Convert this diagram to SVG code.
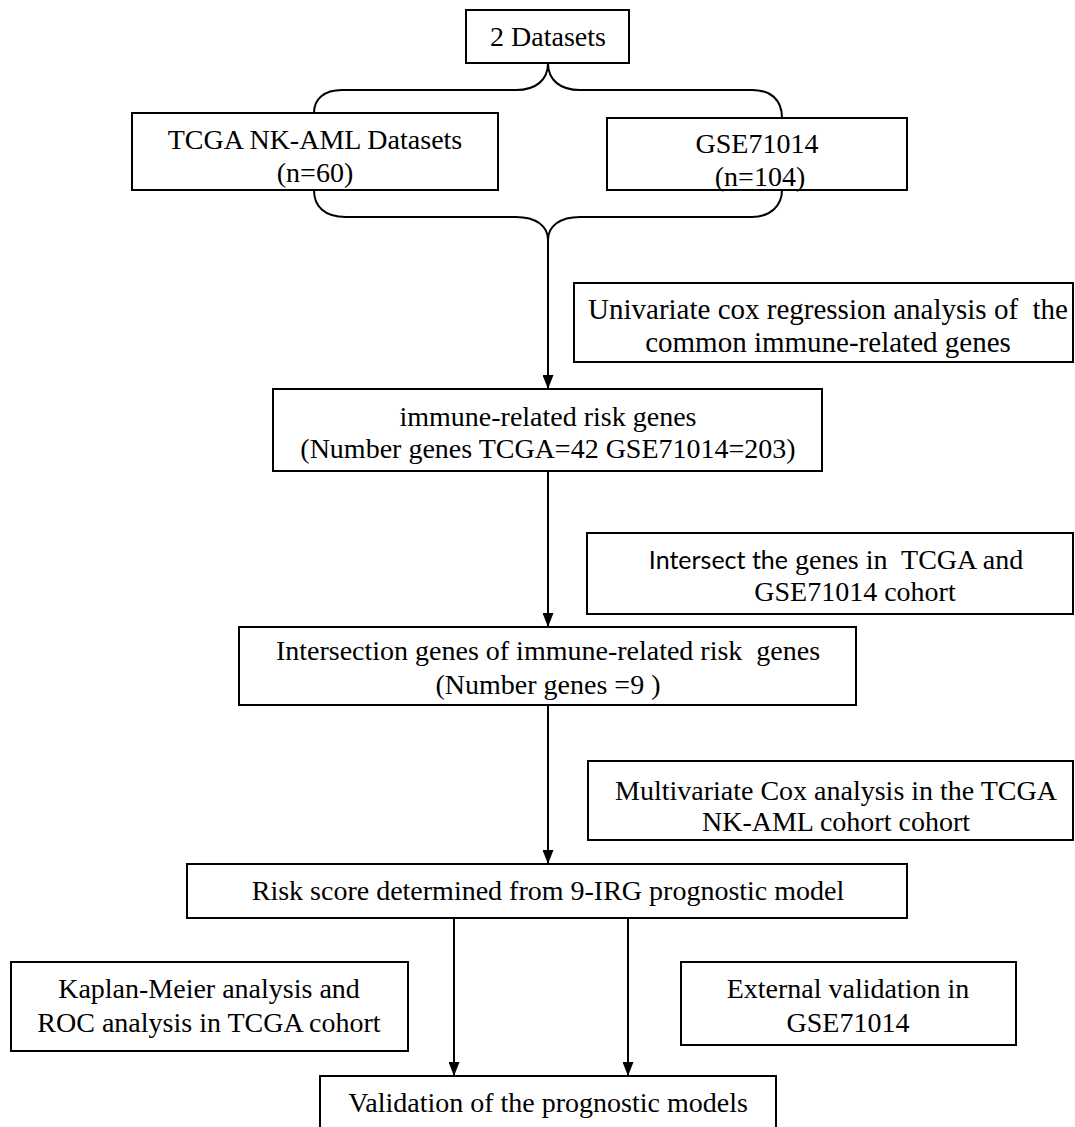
<svg xmlns="http://www.w3.org/2000/svg" width="1075" height="1127" viewBox="0 0 1075 1127">
<defs>
<marker id="arrow" viewBox="0 0 14 11" refX="14" refY="5.5" markerWidth="14" markerHeight="11" markerUnits="userSpaceOnUse" orient="auto">
<path d="M0,0 L14,5.5 L0,11 z" fill="#000"/>
</marker>
<style>
.box{fill:#fff;stroke:#000;stroke-width:2}
.open{fill:none}
.t{font-family:"Liberation Serif","Times New Roman",serif;font-size:28px;fill:#000;text-anchor:middle;white-space:pre}
.s{font-family:Lato,"Liberation Sans",sans-serif;font-size:25px}
.c{fill:none;stroke:#000;stroke-width:2}
</style>
</defs>
<rect width="1075" height="1127" fill="#fff"/>
<g id="connectors">
<path class="c" d="M314,113 C314,99 324,90 342,90 L516,90 C536,90 548,80 548,63 C548,80 560,90 580,90 L752,90 C770,90 782,99 782,118"/>
<path class="c" d="M314,190 C314,206 324,217 346,217 L516,217 C536,217 548,226 548,240 M548,240 C548,226 560,217 580,217 L752,217 C770,217 782,206 782,190"/>
<line class="c" x1="548" y1="237" x2="548" y2="389" marker-end="url(#arrow)"/>
<line class="c" x1="548" y1="471" x2="548" y2="627" marker-end="url(#arrow)"/>
<line class="c" x1="548" y1="705" x2="548" y2="864" marker-end="url(#arrow)"/>
<line class="c" x1="454" y1="918" x2="454" y2="1076" marker-end="url(#arrow)"/>
<line class="c" x1="628" y1="918" x2="628" y2="1076" marker-end="url(#arrow)"/>
</g>
<g id="n_datasets">
<rect class="box" x="466" y="10" width="163" height="53"/>
<text class="t" x="548" y="46">2 Datasets</text>
</g>
<g id="n_tcga">
<rect class="box open" x="132" y="113" width="366" height="77"/>
<text class="t" x="315" y="149">TCGA NK-AML Datasets</text>
<text class="t" x="315" y="182">(n=60)</text>
</g>
<g id="n_gse">
<rect class="box open" x="607" y="118" width="300" height="72"/>
<text class="t" x="757" y="153">GSE71014</text>
<text class="t" x="760" y="186">(n=104)</text>
</g>
<g id="n_univariate">
<rect class="box" x="574" y="283" width="499" height="79"/>
<text class="t" x="828" y="319" style="font-size:29px">Univariate cox regression analysis of  the</text>
<text class="t" x="828" y="352" style="font-size:29px">common immune-related genes</text>
</g>
<g id="n_immune">
<rect class="box" x="273" y="389" width="549" height="82"/>
<text class="t" x="548" y="426">immune-related risk genes</text>
<text class="t" x="548" y="458">(Number genes TCGA=42 GSE71014=203)</text>
</g>
<g id="n_intersect">
<rect class="box" x="587" y="533" width="486" height="81"/>
<text class="t" x="836" y="569"><tspan class="s">Intersect the</tspan> genes in  TCGA and</text>
<text class="t" x="855" y="601">GSE71014 cohort</text>
</g>
<g id="n_intersection">
<rect class="box" x="239" y="627" width="617" height="78"/>
<text class="t" x="548" y="660">Intersection genes of immune-related risk  genes</text>
<text class="t" x="548" y="694">(Number genes =9 )</text>
</g>
<g id="n_multivariate">
<rect class="box" x="588" y="761" width="485" height="79"/>
<text class="t" x="836" y="800">Multivariate Cox analysis in the TCGA</text>
<text class="t" x="836" y="831">NK-AML cohort cohort</text>
</g>
<g id="n_risk">
<rect class="box" x="187" y="864" width="720" height="54"/>
<text class="t" x="548" y="900">Risk score determined from 9-IRG prognostic model</text>
</g>
<g id="n_kaplan">
<rect class="box" x="11" y="962" width="397" height="89"/>
<text class="t" x="209" y="998">Kaplan-Meier analysis and</text>
<text class="t" x="209" y="1032">ROC analysis in TCGA cohort</text>
</g>
<g id="n_external">
<rect class="box" x="681" y="962" width="335" height="83"/>
<text class="t" x="848" y="998">External validation in</text>
<text class="t" x="848" y="1032">GSE71014</text>
</g>
<g id="n_validation">
<rect class="box" x="320" y="1076" width="456" height="70"/>
<text class="t" x="548" y="1112">Validation of the prognostic models</text>
</g>
</svg>
